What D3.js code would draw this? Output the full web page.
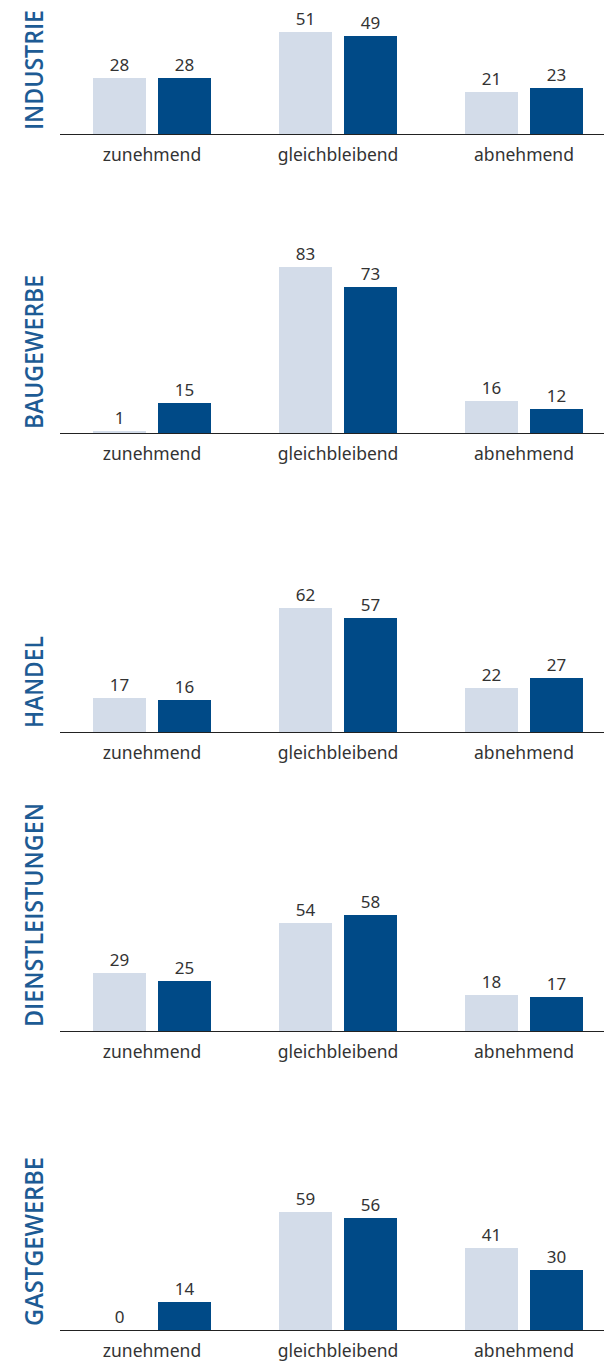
<!DOCTYPE html>
<html>
<head>
<meta charset="utf-8">
<script src="https://cdn.jsdelivr.net/npm/d3@7"></script>
<style>
  html, body { margin: 0; padding: 0; background: #fff; }
  svg { display: block; }
</style>
</head>
<body>
<svg id="chart" width="604" height="1361"></svg>
<script>
// Sector panels, each with two series across three trend categories
const sectors = ["INDUSTRIE", "BAUGEWERBE", "HANDEL", "DIENSTLEISTUNGEN", "GASTGEWERBE"];
const categories = ["zunehmend", "gleichbleibend", "abnehmend"];
const seriesA = [ // light bars
  [28, 51, 21],
  [1, 83, 16],
  [17, 62, 22],
  [29, 54, 18],
  [0, 59, 41]
];
const seriesB = [ // dark bars
  [28, 49, 23],
  [15, 73, 12],
  [16, 57, 27],
  [25, 58, 17],
  [14, 56, 30]
];
const titleLengths = [120, 154, 92, 224, 169];

const colorA = "#d3dce9";
const colorB = "#004a87";
const titleColor = "#1d5b94";
const textColor = "#333333";

const svg = d3.select("#chart");
const panelStep = 299;
const firstBaseline = 134;

const x0 = d3.scaleBand().domain(categories).range([60, 618]).paddingInner(0).paddingOuter(0);
// inner positions of the two bars within each group
const x1 = d3.scaleBand().domain(["a", "b"]).range([33, 151]).paddingInner(12 / 65);
const y = d3.scaleLinear().domain([0, 100]).range([0, 200]);

sectors.forEach((name, i) => {
  const base = firstBaseline + i * panelStep;
  const g = svg.append("g").attr("transform", `translate(0,${base})`);

  const rows = categories.map((c, j) => ({ c, a: seriesA[i][j], b: seriesB[i][j] }));

  const grp = g.selectAll("g.grp").data(rows).join("g")
    .attr("class", "grp")
    .attr("transform", d => `translate(${x0(d.c)},0)`);

  [["a", colorA], ["b", colorB]].forEach(([key, col]) => {
    grp.append("rect")
      .attr("x", x1(key))
      .attr("width", x1.bandwidth())
      .attr("y", d => -y(d[key]))
      .attr("height", d => y(d[key]))
      .attr("fill", col);
    grp.append("text")
      .attr("x", x1(key) + x1.bandwidth() / 2)
      .attr("y", d => -y(d[key]) - 7)
      .attr("text-anchor", "middle")
      .attr("font-family", "Noto Sans, sans-serif")
      .attr("font-size", 17)
      .attr("fill", textColor)
      .text(d => d[key]);
  });

  // baseline
  g.append("line")
    .attr("x1", 60).attr("x2", 604)
    .attr("y1", 0.5).attr("y2", 0.5)
    .attr("stroke", "#222").attr("stroke-width", 1);

  // category labels
  grp.append("text")
    .attr("x", 92)
    .attr("y", 27)
    .attr("text-anchor", "middle")
    .attr("font-family", "Noto Sans, sans-serif")
    .attr("font-size", 17.5)
    .attr("fill", textColor)
    .text(d => d.c);

  // vertical sector title
  g.append("text")
    .attr("transform", "translate(43,-4) rotate(-90)")
    .attr("font-family", "Open Sans, Noto Sans, sans-serif")
    .attr("font-weight", 600)
    .attr("font-size", 26)
    .attr("textLength", titleLengths[i])
    .attr("lengthAdjust", "spacingAndGlyphs")
    .attr("fill", titleColor)
    .text(name);
});
</script>
</body>
</html>
